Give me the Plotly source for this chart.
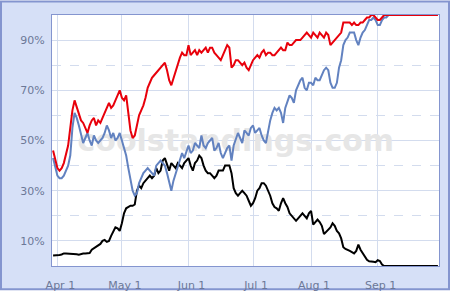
import pandas as pd
import plotly.graph_objects as go

# ---- data (daily playoff odds, %) ----
all_days = pd.date_range("2008-03-30", "2008-09-29", freq="D")
break_days = pd.date_range("2008-07-14", "2008-07-17", freq="D")  # All-Star break, no updates
dates = [d for d in all_days if d not in break_days]

red_mar = [46, 43]
red_apr = [39, 38, 39, 41, 44, 48, 55, 62, 66, 63, 60, 58, 57, 55, 53, 56, 58, 59, 56, 58,
           57, 59, 61, 63, 65, 63, 64, 66, 68, 70]
red_may = [67, 66, 68, 60, 54, 51, 52, 56, 60, 62, 64, 67, 71, 73, 75, 76, 77, 78, 79, 80,
           81, 78, 74, 72, 75, 77, 80, 83, 85, 84, 84]
red_jun = [88, 84, 85, 86, 84, 86, 85, 86, 87, 85, 87, 87, 85, 84, 83, 82, 84, 86, 88, 87,
           79, 80, 82, 82, 81, 80, 81, 79, 78, 80]
red_jul = [82, 83, 84, 83, 85, 86, 84, 85, 85, 84, 84, 85, 86,
           87, 86, 86, 89, 88, 88, 89, 90, 90, 90, 91, 92, 93, 92]
red_aug = [91, 93, 92, 91, 93, 92, 91, 93, 92, 88, 89, 90, 91, 92, 93, 97, 97, 97, 97, 96,
           97, 96, 96, 97, 97, 98, 99, 99, 100, 100, 99]
red_sep = [98, 98, 99] + [100] * 26

blue_mar = [43, 39]
blue_apr = [36, 35, 35, 36, 38, 40, 44, 55, 61, 59, 56, 53, 49, 51, 53, 50, 48, 52, 50, 49,
            50, 51, 53, 56, 54, 51, 53, 50, 51, 53]
blue_may = [50, 47, 44, 39, 34, 30, 28, 29, 33, 35, 37, 38, 39, 38, 37, 36, 40, 41, 42, 41,
            40, 37, 33, 30, 34, 37, 40, 43, 45, 43, 46]
blue_jun = [48, 45, 46, 49, 48, 47, 52, 48, 47, 49, 50, 51, 46, 47, 49, 45, 43, 45, 47, 48,
            42, 48, 51, 53, 51, 49, 54, 53, 52, 55]
blue_jul = [56, 53, 54, 55, 52, 50, 49, 54, 58, 61, 63, 62, 63,
            61, 57, 63, 66, 68, 67, 65, 70, 72, 74, 75, 71, 70, 73]
blue_aug = [73, 72, 75, 74, 74, 76, 78, 79, 78, 73, 71, 71, 73, 79, 82, 88, 90, 91, 93, 93,
            93, 90, 88, 91, 93, 94, 96, 98, 98, 99, 98]
blue_sep = [96, 96, 98, 99, 99] + [100] * 24

black_mar = [4.2, 4.2]
black_apr = [4.3, 4.4, 4.6, 5, 5, 5, 5, 5, 5, 4.7, 4.5, 4.8, 5, 5, 5, 5.2, 6.5, 7, 7.5, 8,
             8.8, 10, 10.4, 9.6, 10, 12, 14, 15.4, 15, 14]
black_may = [17, 21, 23, 23.5, 24, 24, 24.5, 30, 32, 31, 33, 34, 35, 36, 35, 36, 39, 37, 38, 42,
             43, 40, 38, 41, 40, 39, 41, 40, 39, 41, 42]
black_jun = [43, 40, 38, 41, 42, 44, 43, 40, 38, 37, 37, 36, 35, 36, 38, 38, 38, 40, 40, 40,
             37, 31, 29, 28, 29, 30, 29, 28, 26, 24]
black_jul = [25, 27, 30, 31, 33, 33, 32, 30, 28, 25, 23.5, 23, 22,
             25, 27, 25, 23.5, 21, 20, 19, 18, 19, 20, 21, 20, 19, 21]
black_aug = [22, 16.5, 17.5, 18.5, 17.5, 16, 12.7, 13.5, 14.5, 15.4, 17, 16, 14, 13, 11, 7.5,
             6.8, 6.5, 6, 5.5, 5, 6, 8.5, 6.5, 5, 3.5, 2.5, 1.9, 1.9, 1.7, 1.5]
black_sep = [2.3, 2, 0.6] + [0] * 26

red = red_mar + red_apr + red_may + red_jun + red_jul + red_aug + red_sep
blue = blue_mar + blue_apr + blue_may + blue_jun + blue_jul + blue_aug + blue_sep
black = black_mar + black_apr + black_may + black_jun + black_jul + black_aug + black_sep

y_ticks = [10, 30, 50, 70, 90]
y_labels = ["10%", "30%", "50%", "70%", "90%"]
y_minor = [20, 40, 60, 80]
x_ticks = ["2008-04-01", "2008-05-01", "2008-06-01", "2008-07-01", "2008-08-01", "2008-09-01"]
x_labels = ["Apr 1", "May 1", "Jun 1", "Jul 1", "Aug 1", "Sep 1"]
watermark = "coolstandings.com"

# ---- figure ----
W, H = 454, 304
L, R, T, B = 52, 15, 15, 29
pw, ph = W - L - R, H - T - B

def px(x):
    return (x - L) / pw

def py(y):
    return (H - B - y) / ph

fig = go.Figure()

fig.add_trace(go.Scatter(
    x=["2008-06-23"], y=[49], mode="text", text=["<b>" + watermark + "</b>"],
    textfont=dict(family="DejaVu Sans", size=30, color="#E6E6E6"),
    hoverinfo="skip", showlegend=False))

for vals, col in [(black, "#000000"), (blue, "#6282C0"), (red, "#E8000B")]:
    fig.add_trace(go.Scatter(x=dates, y=vals, mode="lines",
                             line=dict(color=col, width=2), showlegend=False))

grid_col = "#D3DCEE"
fig.update_layout(
    width=W, height=H,
    margin=dict(l=L, r=R, t=T, b=B),
    paper_bgcolor="white",
    plot_bgcolor="white",
    font=dict(family="DejaVu Sans, Verdana", size=11, color="#6C7897"),
    shapes=[
        dict(type="rect", xref="paper", yref="paper", layer="below",
             x0=px(1), x1=px(449), y0=py(299), y1=py(1),
             fillcolor="#D6E0F7", line=dict(color="#8495CF", width=2)),
        dict(type="rect", xref="paper", yref="paper", layer="below",
             x0=0, x1=1, y0=0, y1=1, fillcolor="white", line=dict(width=0)),
    ],
    xaxis=dict(
        type="date",
        range=["2008-03-29 12:00", "2008-09-29 12:00"],
        rangebreaks=[dict(bounds=["2008-07-14", "2008-07-18"])],
        tickvals=x_ticks, ticktext=x_labels,
        showgrid=True, gridcolor=grid_col, gridwidth=1,
        showline=True, linecolor="#8495CF", linewidth=1, mirror=True,
        ticks="", ticklabelshift=3, ticklabelstandoff=9,
        zeroline=False,
    ),
    yaxis=dict(
        range=[0, 100],
        tickvals=y_ticks, ticktext=y_labels,
        showgrid=True, gridcolor=grid_col, gridwidth=1,
        minor=dict(tickvals=y_minor, showgrid=True, gridcolor=grid_col, griddash="dash"),
        showline=True, linecolor="#8495CF", linewidth=1, mirror=True,
        ticks="", ticklabelstandoff=4,
        zeroline=False,
    ),
)

fig.write_html("out.html")
